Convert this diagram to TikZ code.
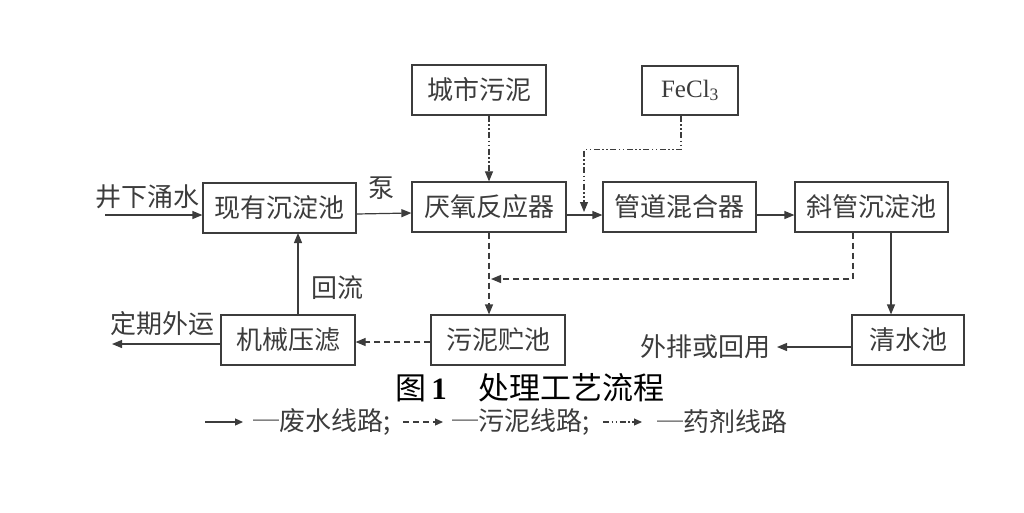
\documentclass[tikz,border=0pt]{standalone}
\usepackage{fontspec}
\setmainfont{Liberation Serif}
\newfontfamily\cjk{Noto Sans CJK SC}
\usetikzlibrary{arrows.meta}
\definecolor{ink}{HTML}{3C3C3C}

\begin{document}
\begin{tikzpicture}[x=1pt, y=-1pt,
        box/.style={draw=ink, line width=1.2pt, text=ink, minimum height=50pt, inner sep=0pt, font=\cjk\fontsize{26}{30}\selectfont},
        lbl/.style={text=ink, inner sep=0pt, font=\cjk\fontsize{26}{30}\selectfont},
        water/.style={draw=ink, line width=1.2pt, -{Triangle[length=10pt, width=8pt]}},
        sludge/.style={water, dash pattern=on 6pt off 4pt},
        drug/.style={water, line width=1.1pt, dash pattern=on 6pt off 2.5pt on 1.5pt off 2.5pt on 1.5pt off 2.5pt}]
        \useasboundingbox (0, 0) rectangle (1024, 512);

        \node[box, minimum width=153pt] (sed) at (279.5, 208) {现有沉淀池};
        \node[box, minimum width=154pt] (reac) at (489, 207) {厌氧反应器};
        \node[box, minimum width=134pt] (city) at (479, 90) {城市污泥};
        \node[box, minimum width=96pt, minimum height=49pt, font=\fontsize{25}{30}\selectfont] (fecl) at (690, 90.5) {FeCl\textsubscript{3}};
        \node[box, minimum width=153pt] (mix) at (679.5, 207) {管道混合器};
        \node[box, minimum width=153pt] (tube) at (871.5, 207) {斜管沉淀池};
        \node[box, minimum width=134pt] (press) at (288, 340) {机械压滤};
        \node[box, minimum width=134pt] (store) at (498, 340) {污泥贮池};
        \node[box, minimum width=112pt] (clear) at (908, 340) {清水池};

        \coordinate (in) at (105, 215);
        \coordinate (dose) at (584, 212);
        \coordinate (join) at (491, 279);
        \coordinate (ret) at (298, 233);
        \coordinate (out1) at (112, 344);
        \coordinate (out2) at (777, 347);

        \node[lbl] (inlbl) at (147, 197) {井下涌水};
        \node[lbl] (pump) at (381, 188) {泵};
        \node[lbl] (retlbl) at (337, 288) {回流};
        \node[lbl] (outlbl1) at (162, 324) {定期外运};
        \node[lbl, anchor=east] (outlbl2) at (771, 347) {外排或回用};

        \draw[water] (in) -- ([yshift=-7pt]sed.west);
        \draw[water] ([yshift=-6pt]sed.east) -- ([yshift=-6pt]reac.west);
        \draw[water] ([yshift=-8pt]reac.east) -- ([yshift=-8pt]mix.west);
        \draw[water] ([yshift=-8pt]mix.east) -- ([yshift=-8pt]tube.west);
        \draw[drug] (city.south -| reac.north) -- (reac.north);
        \draw[drug] ([xshift=-9pt]fecl.south) -- ++(0, 34) -| (dose);
        \draw[sludge] (reac.south) -- (reac.south |- store.north);
        \draw[sludge] ([xshift=-18.5pt]tube.south) |- (join);
        \draw[sludge] ([yshift=-2pt]store.west) -- ([yshift=-2pt]press.east);
        \draw[water] (press.north -| ret) -- (ret);
        \draw[water] ([yshift=-4pt]press.west) -- (out1);
        \draw[water] ([xshift=19.5pt]tube.south) -- ([xshift=-17pt]clear.north);
        \draw[water] ([yshift=-7pt]clear.west) -- (out2);

        \node[text=black, inner sep=0pt, font=\cjk\fontsize{31}{36}\selectfont] (cap) at (530, 388) {图\,{\rmfamily\bfseries 1}\hspace{32pt}处理工艺流程};

        \node[lbl, anchor=west] (lg1) at (253, 422) {─废水线路;};
        \node[lbl, anchor=west] (lg2) at (452, 422) {─污泥线路;};
        \node[lbl, anchor=west] (lg3) at (657, 422) {─药剂线路};
        \coordinate (k1) at (205, 422);
        \coordinate (k2) at (403, 422);
        \coordinate (k3) at (603, 422);
        \draw[water, -{Triangle[length=8pt, width=7pt]}] (k1) -- ([xshift=-10pt]lg1.west);
        \draw[sludge, -{Triangle[length=8pt, width=7pt]}] (k2) -- ([xshift=-9pt]lg2.west);
        \draw[drug, -{Triangle[length=8pt, width=7pt]}] (k3) -- ([xshift=-15pt]lg3.west);
\end{tikzpicture}
\end{document}
